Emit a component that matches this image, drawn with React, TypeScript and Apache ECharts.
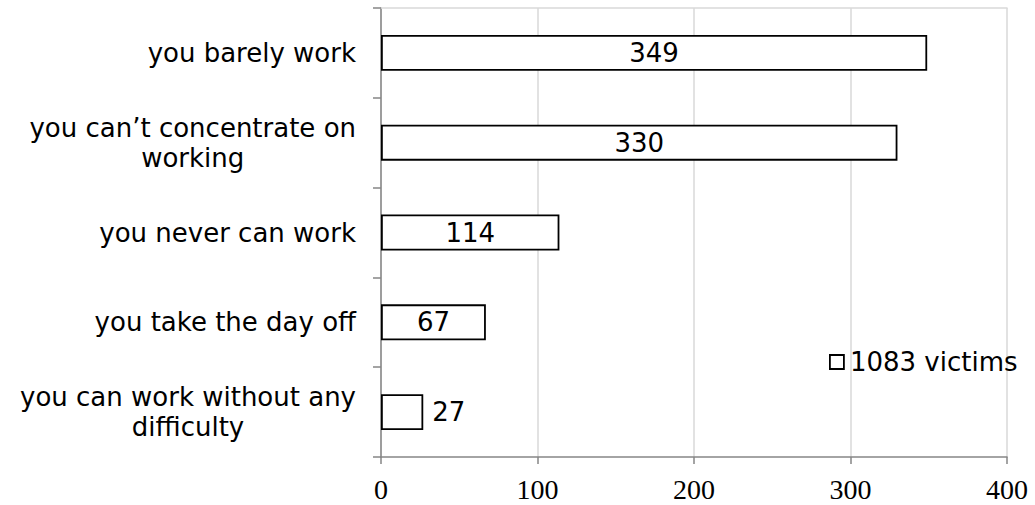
import React, { useEffect, useRef } from "react";
import * as echarts from "echarts";

const categories = [
  "you barely work",
  "you can\u2019t concentrate on\nworking",
  "you never can work",
  "you take the day off",
  "you can work without any\ndifficulty",
];
const values = [349, 330, 114, 67, 27];
const seriesName = "1083 victims";
const xTicks = [0, 100, 200, 300, 400];

const SANS = "'DejaVu Sans', Verdana, sans-serif";
const SERIF = "'Liberation Serif', 'DejaVu Serif', serif";

export default function App() {
  const ref = useRef<HTMLDivElement>(null);
  useEffect(() => {
    if (!ref.current) return;
    const chart = echarts.init(ref.current, undefined, { renderer: "svg" });
    chart.setOption({
      animation: false,
      backgroundColor: "#ffffff",
      grid: { left: 381, right: 28, top: 8, bottom: 48, containLabel: false },
      legend: {
        data: [seriesName],
        left: 824,
        top: 344,
        icon: "rect",
        itemWidth: 14,
        itemHeight: 14,
        itemGap: 5,
        textStyle: { fontFamily: SANS, fontSize: 26, color: "#000", padding: [0, 0, 0, 1] },
        itemStyle: { color: "#fff", borderColor: "#000", borderWidth: 1.8 },
      },
      xAxis: [
        {
          type: "value",
          min: xTicks[0],
          max: xTicks[xTicks.length - 1],
          interval: 100,
          position: "bottom",
          axisLine: { show: true, lineStyle: { color: "#868686", width: 1.5 } },
          axisTick: { show: true, length: 7, lineStyle: { color: "#868686", width: 1.5 } },
          axisLabel: { fontFamily: SERIF, fontSize: 28, color: "#000", margin: 18 },
          splitLine: { show: true, lineStyle: { color: "#d9d9d9", width: 1.5 } },
        },
        {
          type: "value",
          min: 0,
          max: 400,
          interval: 100,
          position: "top",
          axisLine: { show: true, lineStyle: { color: "#d9d9d9", width: 1.5 } },
          axisTick: { show: false },
          axisLabel: { show: false },
          splitLine: { show: false },
        },
      ],
      yAxis: {
        type: "category",
        data: categories,
        inverse: true,
        axisLine: { show: true, lineStyle: { color: "#868686", width: 1.5 } },
        axisTick: { show: true, length: 8, alignWithLabel: false, lineStyle: { color: "#868686", width: 1.5 } },
        axisLabel: {
          margin: 25,
          formatter: (v: string) =>
            v
              .split("\n")
              .map((l) => `{a|${l}}`)
              .join("\n"),
          rich: {
            a: { fontFamily: SANS, fontSize: 26, color: "#000", align: "center", lineHeight: 30 },
          },
        },
      },
      series: [
        {
          name: seriesName,
          type: "bar",
          xAxisIndex: 0,
          barCategoryGap: "60%",
          data: values.map((v) => ({
            value: v,
            label: { position: v < 50 ? "right" : "inside", distance: 9 },
          })),
          itemStyle: { color: "#ffffff", borderColor: "#000000", borderWidth: 1.8 },
          label: {
            show: true,
            fontFamily: SANS,
            fontSize: 26,
            color: "#000",
          },
        },
      ],
    });
    return () => chart.dispose();
  }, []);
  return (
    <div
      ref={ref}
      style={{ position: "fixed", left: 0, top: 0, width: 1035, height: 505, background: "#fff" }}
    />
  );
}
